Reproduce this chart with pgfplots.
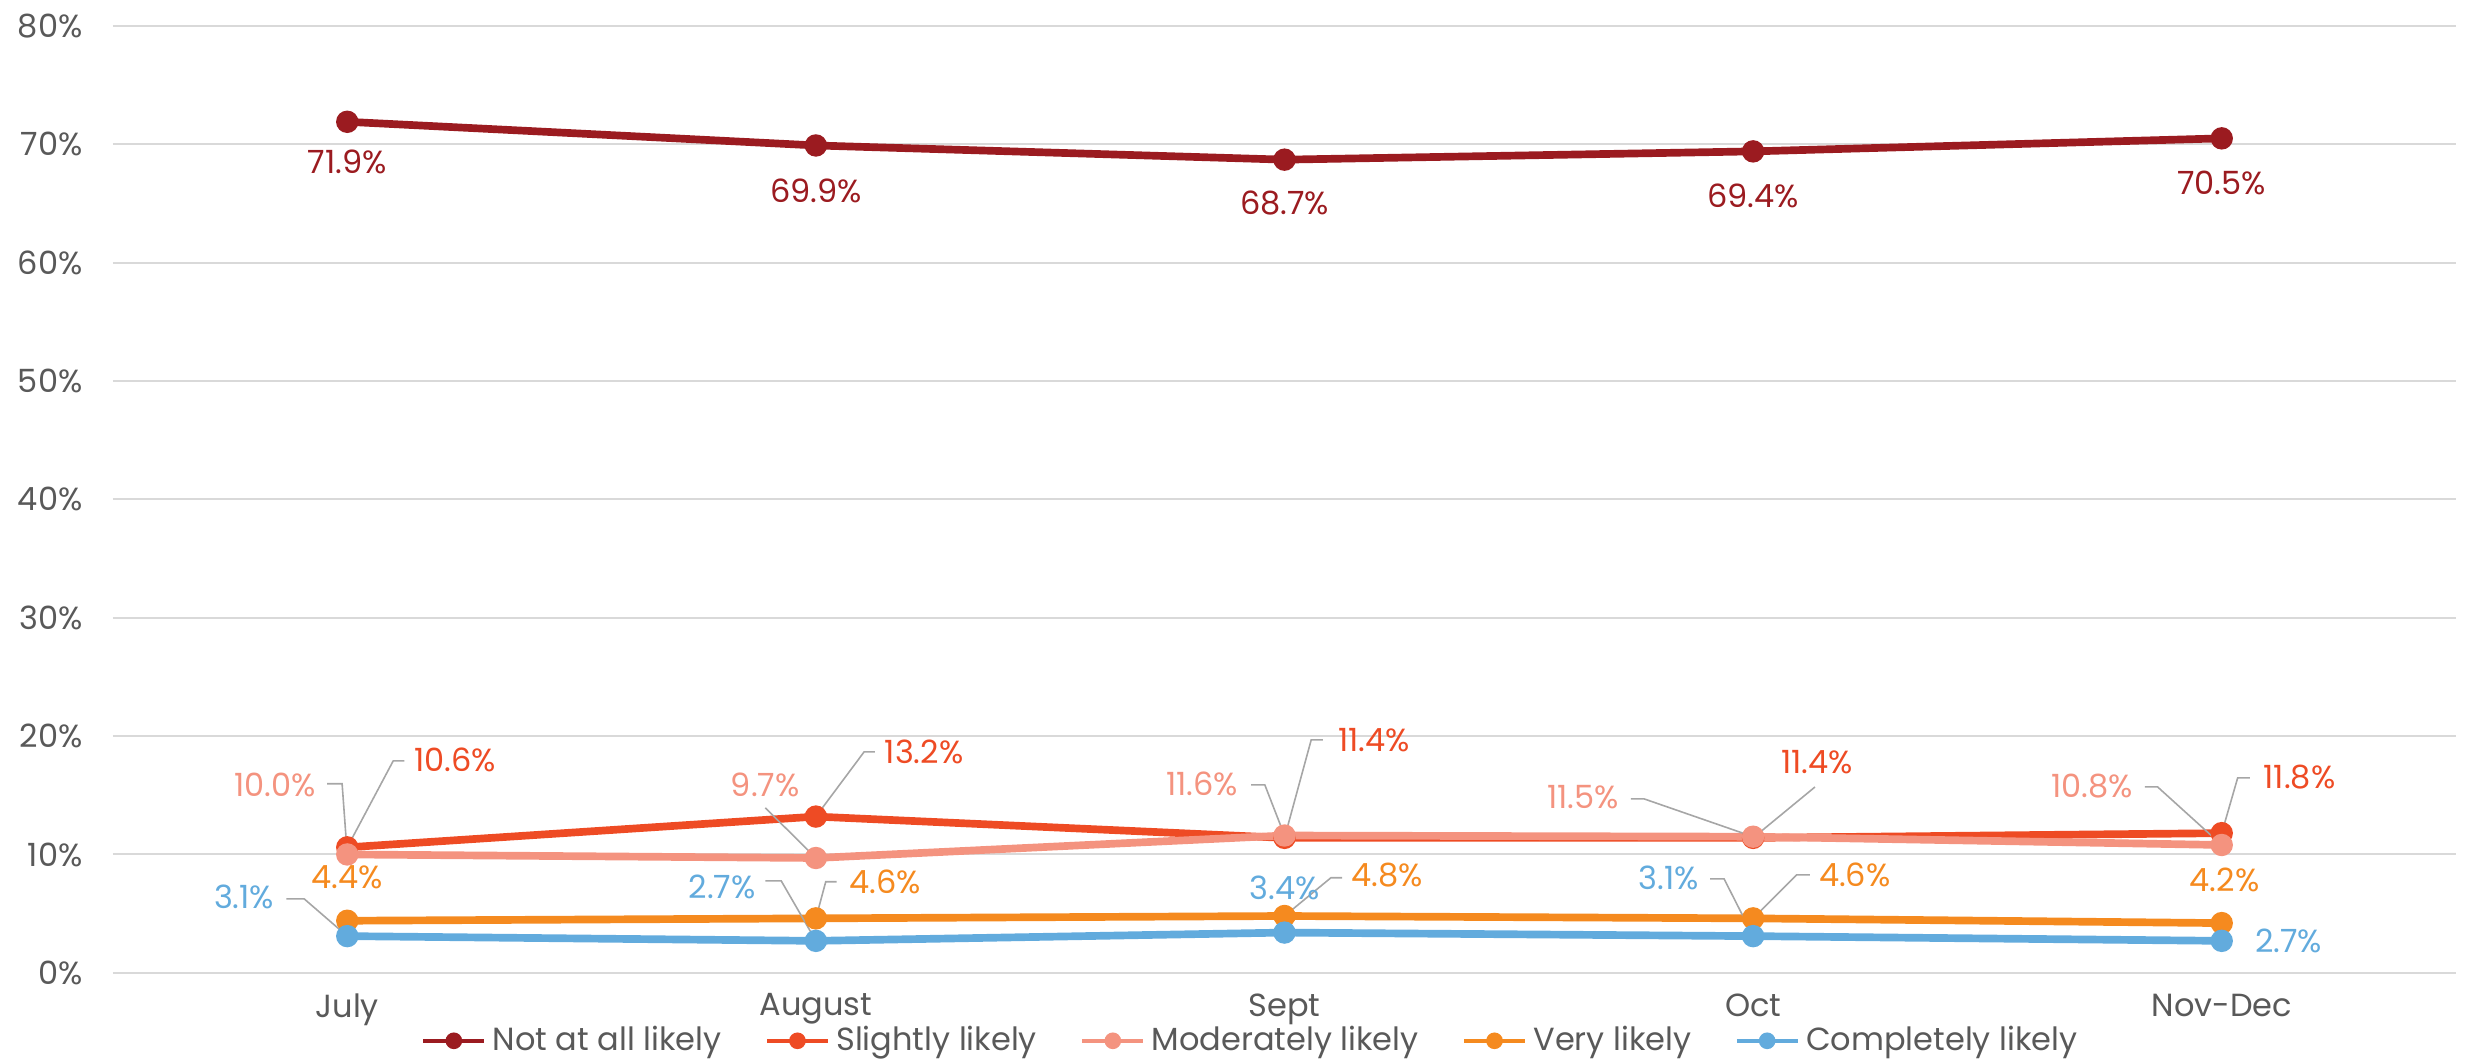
\documentclass[border=0pt]{standalone}
\usepackage{pgfplots}
\pgfplotsset{compat=1.18}
\usepackage{fontspec}
\setmainfont{Poppins}
\definecolor{cA}{HTML}{9B1B20}
\definecolor{cB}{HTML}{EE4B24}
\definecolor{cC}{HTML}{F4937F}
\definecolor{cD}{HTML}{F58A1F}
\definecolor{cE}{HTML}{62ABDD}
\definecolor{txt}{HTML}{595959}
\definecolor{gridc}{HTML}{D9D9D9}
\definecolor{lead}{HTML}{A6A6A6}
\begin{document}
\begin{tikzpicture}[
  lab/.style={font=\fontsize{10}{12}\selectfont, inner sep=0pt, anchor=center},
  ld/.style={draw=lead, line width=0.5pt}
]
\begin{axis}[
  scale only axis, width=732.2pt, height=295.9pt,
  xmin=-0.5, xmax=4.5, ymin=0, ymax=80,
  axis line style={draw=none}, tick style={draw=none},
  xtick={0,1,2,3,4}, xticklabels={July,August,Sept,Oct,Nov-Dec},
  ytick={0,10,20,30,40,50,60,70,80},
  yticklabels={0\%,10\%,20\%,30\%,40\%,50\%,60\%,70\%,80\%},
  ymajorgrids, major grid style={draw=gridc, line width=0.6pt},
  ticklabel style={font=\fontsize{10}{12}\selectfont, text=txt},
  yticklabel style={anchor=east, xshift=-6pt},
  xticklabel style={yshift=-3pt},
  clip=false,
  legend columns=-1,
  legend style={draw=none, fill=none, at={(0.4785,-0.0718)}, anchor=center,
    font=\fontsize{10}{12}\selectfont, text=txt,
    /tikz/every even column/.append style={column sep=0pt}},
  legend image code/.code={%
    \path (-11pt,0pt);
    \draw[#1, line width=1.3pt, mark repeat=2, mark phase=2, mark size=2.3pt, mark options={solid, line width=0.6pt}]
      plot coordinates {(0pt,0pt) (9.5pt,0pt) (19pt,0pt)};},
  every axis plot/.append style={line width=2.4pt, mark=*, mark size=3.2pt, mark options={solid, line width=0.6pt}},
]
\addplot[color=cA] coordinates {(0,71.9) (1,69.9) (2,68.7) (3,69.4) (4,70.5)};
\addlegendentry{Not at all likely}
\addplot[color=cB] coordinates {(0,10.6) (1,13.2) (2,11.4) (3,11.4) (4,11.8)};
\addlegendentry{Slightly likely}
\addplot[color=cC] coordinates {(0,10.0) (1,9.7) (2,11.6) (3,11.5) (4,10.8)};
\addlegendentry{Moderately likely}
\addplot[color=cD] coordinates {(0,4.4) (1,4.6) (2,4.8) (3,4.6) (4,4.2)};
\addlegendentry{Very likely}
\addplot[color=cE] coordinates {(0,3.1) (1,2.7) (2,3.4) (3,3.1) (4,2.7)};
\addlegendentry{Completely likely}

% leader lines
\draw[ld] (axis cs:0,10.6) -- (axis cs:0.098,17.9) -- (axis cs:0.122,17.9);
\draw[ld] (axis cs:1,13.2) -- (axis cs:1.103,18.67) -- (axis cs:1.126,18.67);
\draw[ld] (axis cs:2,11.4) -- (axis cs:2.057,19.68) -- (axis cs:2.082,19.68);
\draw[ld] (axis cs:3,11.4) -- (axis cs:3.132,15.7);
\draw[ld] (axis cs:4,11.8) -- (axis cs:4.034,16.47) -- (axis cs:4.06,16.47);
\draw[ld] (axis cs:-0.043,15.97) -- (axis cs:-0.011,15.97) -- (axis cs:0,10.0);
\draw[ld] (axis cs:0.892,13.94) -- (axis cs:1,9.7);
\draw[ld] (axis cs:1.929,15.88) -- (axis cs:1.958,15.88) -- (axis cs:2,11.6);
\draw[ld] (axis cs:2.739,14.70) -- (axis cs:2.767,14.70) -- (axis cs:3,11.5);
\draw[ld] (axis cs:3.836,15.71) -- (axis cs:3.863,15.71) -- (axis cs:4,10.8);
\draw[ld] (axis cs:1,4.6) -- (axis cs:1.021,7.69) -- (axis cs:1.044,7.69);
\draw[ld] (axis cs:2,4.8) -- (axis cs:2.099,8.03) -- (axis cs:2.123,8.03);
\draw[ld] (axis cs:3,4.6) -- (axis cs:3.093,8.28) -- (axis cs:3.121,8.28);
\draw[ld] (axis cs:-0.130,6.25) -- (axis cs:-0.092,6.25) -- (axis cs:0,3.1);
\draw[ld] (axis cs:0.892,7.77) -- (axis cs:0.926,7.77) -- (axis cs:1,2.7);
\draw[ld] (axis cs:2.908,7.94) -- (axis cs:2.938,7.94) -- (axis cs:3,3.1);

% labels: Not at all likely
\node[lab, text=cA] at (axis cs:0,68.5) {71.9\%};
\node[lab, text=cA] at (axis cs:1,66.05) {69.9\%};
\node[lab, text=cA] at (axis cs:2,65.0) {68.7\%};
\node[lab, text=cA] at (axis cs:3,65.6) {69.4\%};
\node[lab, text=cA] at (axis cs:4,66.7) {70.5\%};
% Slightly likely
\node[lab, text=cB] at (axis cs:0.23,17.99) {10.6\%};
\node[lab, text=cB] at (axis cs:1.231,18.67) {13.2\%};
\node[lab, text=cB] at (axis cs:2.191,19.68) {11.4\%};
\node[lab, text=cB] at (axis cs:3.136,17.82) {11.4\%};
\node[lab, text=cB] at (axis cs:4.166,16.56) {11.8\%};
% Moderately likely
\node[lab, text=cC] at (axis cs:-0.154,15.88) {10.0\%};
\node[lab, text=cC] at (axis cs:0.892,15.88) {9.7\%};
\node[lab, text=cC] at (axis cs:1.824,15.97) {11.6\%};
\node[lab, text=cC] at (axis cs:2.637,14.87) {11.5\%};
\node[lab, text=cC] at (axis cs:3.723,15.80) {10.8\%};
% Very likely
\node[lab, text=cD] at (axis cs:0,8.11) {4.4\%};
\node[lab, text=cD] at (axis cs:1.148,7.69) {4.6\%};
\node[lab, text=cD] at (axis cs:2.219,8.28) {4.8\%};
\node[lab, text=cD] at (axis cs:3.217,8.28) {4.6\%};
\node[lab, text=cD] at (axis cs:4.006,7.86) {4.2\%};
% Completely likely
\node[lab, text=cE] at (axis cs:-0.220,6.42) {3.1\%};
\node[lab, text=cE] at (axis cs:0.80,7.26) {2.7\%};
\node[lab, text=cE] at (axis cs:2.001,7.18) {3.4\%};
\node[lab, text=cE] at (axis cs:2.820,8.03) {3.1\%};
\node[lab, text=cE] at (axis cs:4.143,2.70) {2.7\%};
\end{axis}
\pgfresetboundingbox
\path[use as bounding box] (-35.3pt,-27.8pt) rectangle (737.5pt,304.0pt);
\end{tikzpicture}
\end{document}
